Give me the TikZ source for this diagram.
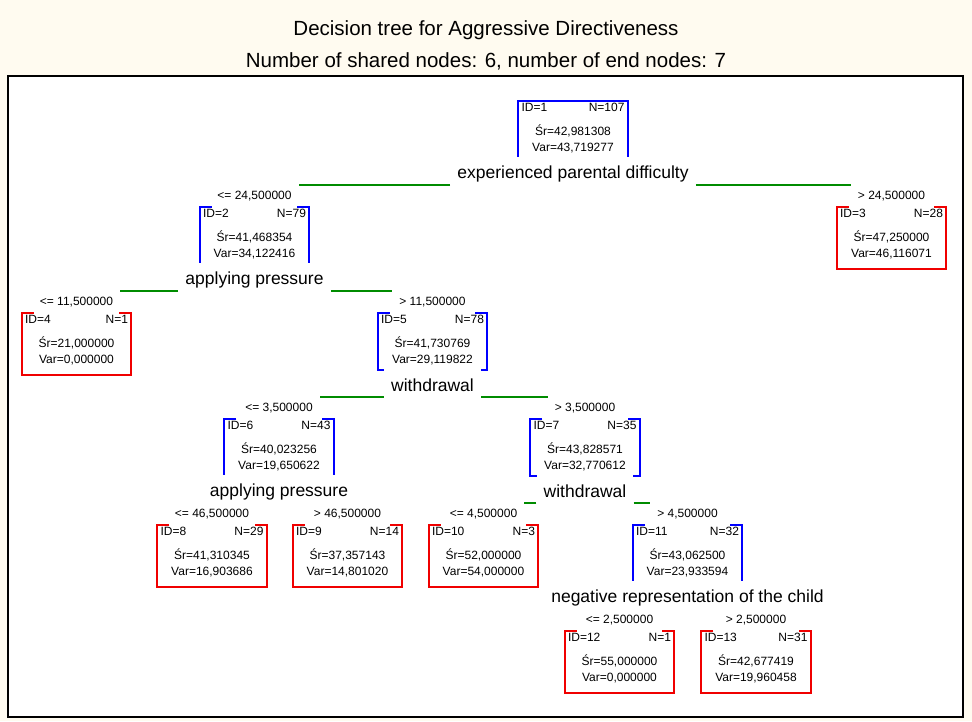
\documentclass[tikz,border=0pt]{standalone}
\usepackage{fontspec}
\setmainfont{Liberation Sans}
\usetikzlibrary{positioning}

\definecolor{paper}{RGB}{255,251,240}
\definecolor{splitblue}{RGB}{0,0,255}
\definecolor{leafred}{RGB}{240,0,0}
\definecolor{branchgreen}{RGB}{0,140,0}

\begin{document}
\begin{tikzpicture}[x=1pt, y=-1pt,
    stats/.style={anchor=north, text width=103pt, inner xsep=3pt, inner ysep=2pt, align=center, font=\fontsize{12}{16}\selectfont},
    splitname/.style={fill=white, inner xsep=7pt, inner ysep=0pt, minimum height=34pt, font=\fontsize{17.5}{20}\selectfont},
    cond/.style={inner xsep=7pt, inner ysep=2pt, font=\fontsize{12}{14}\selectfont},
    branch/.style={draw=branchgreen, line width=2pt},
    heading/.style={font=\fontsize{20.5}{24}\selectfont}]

    % sheet and frame
    \fill[paper] (0,0) rectangle (972,721);
    \draw[line width=1.8pt, fill=white] (8,76) rectangle (963,717);

    \node[heading] (title) at (486,30) {Decision tree for Aggressive Directiveness};
    \node[heading] (subtitle) at (486,61) {Number of shared nodes: 6, number of end nodes: 7};

    % node boxes
    \node[stats] (b1) at (573,101) {ID=1\hfill N=107\\[8pt]Śr=42,981308\\Var=43,719277};
    \node[stats] (b2) at (254.5,207) {ID=2\hfill N=79\\[8pt]Śr=41,468354\\Var=34,122416};
    \node[stats] (b3) at (891.5,207) {ID=3\hfill N=28\\[8pt]Śr=47,250000\\Var=46,116071};
    \node[stats] (b4) at (76.5,313) {ID=4\hfill N=1\\[8pt]Śr=21,000000\\Var=0,000000};
    \node[stats] (b5) at (432.5,313) {ID=5\hfill N=78\\[8pt]Śr=41,730769\\Var=29,119822};
    \node[stats] (b6) at (279,419) {ID=6\hfill N=43\\[8pt]Śr=40,023256\\Var=19,650622};
    \node[stats] (b7) at (585,419) {ID=7\hfill N=35\\[8pt]Śr=43,828571\\Var=32,770612};
    \node[stats] (b8) at (212,525) {ID=8\hfill N=29\\[8pt]Śr=41,310345\\Var=16,903686};
    \node[stats] (b9) at (347.5,525) {ID=9\hfill N=14\\[8pt]Śr=37,357143\\Var=14,801020};
    \node[stats] (b10) at (483.5,525) {ID=10\hfill N=3\\[8pt]Śr=52,000000\\Var=54,000000};
    \node[stats] (b11) at (687.5,525) {ID=11\hfill N=32\\[8pt]Śr=43,062500\\Var=23,933594};
    \node[stats] (b12) at (619.5,631) {ID=12\hfill N=1\\[8pt]Śr=55,000000\\Var=0,000000};
    \node[stats] (b13) at (756,631) {ID=13\hfill N=31\\[8pt]Śr=42,677419\\Var=19,960458};

    % outlines: blue for split nodes, red for end nodes
    \draw[line width=1.8pt, splitblue] (b1.north west) rectangle ([yshift=-3pt]b1.south east);
    \foreach \b/\col/\d in {b2/splitblue/-3pt, b5/splitblue/-3pt, b6/splitblue/-3pt, b7/splitblue/-3pt, b11/splitblue/-3pt,
                            b3/leafred/-8pt, b4/leafred/-8pt, b8/leafred/-8pt, b9/leafred/-8pt, b10/leafred/-8pt, b12/leafred/-8pt, b13/leafred/-8pt}
        \draw[line width=1.8pt, draw=\col] ([xshift=12pt]\b.north west) -- (\b.north west) -- ([yshift=\d]\b.south west)
            -- ([yshift=\d]\b.south east) -- (\b.north east) -- ([xshift=-12pt]\b.north east);

    % split variables
    \node[splitname, below=1pt of b1] (s1) {experienced parental difficulty};
    \node[splitname, below=1pt of b2] (s2) {applying pressure};
    \node[splitname, below=1pt of b5] (s5) {withdrawal};
    \node[splitname, below=1pt of b6] (s6) {applying pressure};
    \node[splitname, below=1pt of b7] (s7) {withdrawal};
    \node[splitname, below=1pt of b11] (s11) {negative representation of the child};

    % split conditions
    \node[cond, above=4pt of b2] (c2) {<= 24,500000};
    \node[cond, above=4pt of b3] (c3) {> 24,500000};
    \node[cond, above=4pt of b4] (c4) {<= 11,500000};
    \node[cond, above=4pt of b5] (c5) {> 11,500000};
    \node[cond, above=4pt of b6] (c6) {<= 3,500000};
    \node[cond, above=4pt of b7] (c7) {> 3,500000};
    \node[cond, above=4pt of b8] (c8) {<= 46,500000};
    \node[cond, above=4pt of b9] (c9) {> 46,500000};
    \node[cond, above=4pt of b10] (c10) {<= 4,500000};
    \node[cond, above=4pt of b11] (c11) {> 4,500000};
    \node[cond, above=4pt of b12] (c12) {<= 2,500000};
    \node[cond, above=4pt of b13] (c13) {> 2,500000};

    % branches
    \draw[branch] ([yshift=-11pt]s1.west) -- ([yshift=-11pt]s1.west -| c2.east);
    \draw[branch] ([yshift=-11pt]s1.east) -- ([yshift=-11pt]s1.east -| c3.west);
    \draw[branch] ([yshift=-11pt]s2.west) -- ([yshift=-11pt]s2.west -| c4.east);
    \draw[branch] ([yshift=-11pt]s2.east) -- ([yshift=-11pt]s2.east -| c5.west);
    \draw[branch] ([yshift=-11pt]s5.west) -- ([yshift=-11pt]s5.west -| c6.east);
    \draw[branch] ([yshift=-11pt]s5.east) -- ([yshift=-11pt]s5.east -| c7.west);
    \draw[branch] ([yshift=-11pt]s7.west) -- ([yshift=-11pt]s7.west -| c10.east);
    \draw[branch] ([yshift=-11pt]s7.east) -- ([yshift=-11pt]s7.east -| c11.west);
\end{tikzpicture}
\end{document}
